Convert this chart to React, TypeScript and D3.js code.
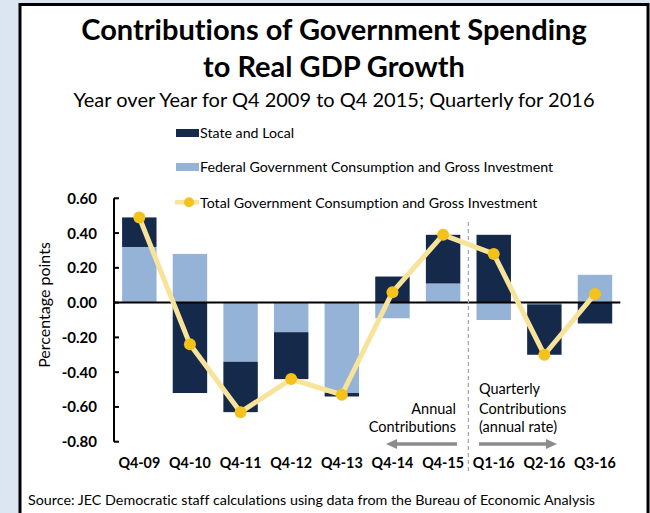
import React from "react";
import * as d3 from "d3";

// Quarters shown on the x axis
const categories = ["Q4-09", "Q4-10", "Q4-11", "Q4-12", "Q4-13", "Q4-14", "Q4-15", "Q1-16", "Q2-16", "Q3-16"];
// Contributions to real GDP growth, percentage points
const federal = [0.32, 0.28, -0.34, -0.17, -0.52, -0.09, 0.11, -0.1, -0.01, 0.16];
const stateLocal = [0.17, -0.52, -0.29, -0.27, -0.02, 0.15, 0.28, 0.39, -0.29, -0.12];
const total = [0.49, -0.24, -0.63, -0.44, -0.53, 0.06, 0.39, 0.28, -0.3, 0.05];
const yTicks = [0.6, 0.4, 0.2, 0, -0.2, -0.4, -0.6, -0.8];

const seriesKeys = ["federal", "stateLocal"];
const seriesColors: Record<string, string> = { federal: "#95b3d7", stateLocal: "#15294b" };

const W = 650;
const H = 513;
const FONT = "Lato, 'Open Sans', sans-serif";

export default function App() {
  const x = d3.scaleBand<string>().domain(categories).range([114, 620.3]).paddingInner(0.32).paddingOuter(0.16);
  const y = d3.scaleLinear().domain([-0.8, 0.6]).range([441.7, 198.3]);

  const rows = categories.map((c, i) => ({ cat: c, federal: federal[i], stateLocal: stateLocal[i] }));
  const stacked = d3.stack<any>().keys(seriesKeys).offset(d3.stackOffsetDiverging)(rows);

  const line = d3
    .line<number>()
    .x((_, i) => (x(categories[i]) as number) + x.bandwidth() / 2)
    .y((d) => y(d));

  const splitX = ((x("Q4-15") as number) + x.bandwidth() + (x("Q1-16") as number)) / 2;

  return (
    <svg
      width={W}
      height={H}
      style={{ position: "absolute", left: 0, top: 0, fontVariantLigatures: "none" }}
      fontFamily={FONT}
    >
      <rect x={0} y={0} width={W} height={H} fill="#dce6f2" />
      <rect x={20} y={4.5} width={628} height={530} fill="#ffffff" stroke="#000" strokeWidth={3} />

      {/* Titles */}
      <text x={334} y={40} textAnchor="middle" fontSize={29} fontWeight={700} fill="#000">
        Contributions of Government Spending
      </text>
      <text x={334} y={77} textAnchor="middle" fontSize={29} fontWeight={700} fill="#000">
        to Real GDP Growth
      </text>
      <text x={334} y={107} textAnchor="middle" fontSize={20} fill="#000">
        Year over Year for Q4 2009 to Q4 2015; Quarterly for 2016
      </text>

      {/* Legend */}
      <g fontSize={14.2} fill="#000">
        <rect x={176} y={129} width={23} height={8} fill={seriesColors.stateLocal} />
        <text x={200} y={138}>State and Local</text>
        <rect x={176} y={163} width={23} height={8} fill={seriesColors.federal} />
        <text x={200} y={172}>Federal Government Consumption and Gross Investment</text>
        <line x1={175} x2={199} y1={202.3} y2={202.3} stroke="#f7e39a" strokeWidth={4.5} />
        <circle cx={189} cy={202.3} r={5} fill="#f5c21b" />
        <text x={200} y={207.5}>Total Government Consumption and Gross Investment</text>
      </g>

      {/* Bars */}
      {stacked.map((s) => (
        <g key={s.key} fill={seriesColors[s.key]}>
          {s.map((d, i) => (
            <rect
              key={i}
              x={x(categories[i]) as number}
              y={y(Math.max(d[0], d[1]))}
              width={x.bandwidth()}
              height={Math.abs(y(d[0]) - y(d[1]))}
            />
          ))}
        </g>
      ))}

      {/* Zero line */}
      <line x1={114} x2={620.3} y1={y(0)} y2={y(0)} stroke="#000" strokeWidth={2} />

      {/* Divider between annual and quarterly */}
      <line x1={splitX} x2={splitX} y1={222} y2={472} stroke="#a6a6a6" strokeWidth={1.3} strokeDasharray="4,3" />

      {/* Y axis */}
      <line x1={114} x2={114} y1={y(0.6)} y2={y(-0.8)} stroke="#000" strokeWidth={2} />
      {yTicks.map((t) => (
        <g key={t}>
          <line x1={114} x2={119} y1={y(t)} y2={y(t)} stroke="#000" strokeWidth={2} />
          <text x={97} y={y(t) + 5.5} textAnchor="end" fontSize={15} fontWeight={700} fill="#000">
            {t.toFixed(2)}
          </text>
        </g>
      ))}
      <text transform="translate(50,305) rotate(-90)" textAnchor="middle" fontSize={16} fill="#000">
        Percentage points
      </text>

      {/* X labels */}
      {categories.map((c) => (
        <text
          key={c}
          x={(x(c) as number) + x.bandwidth() / 2}
          y={468}
          textAnchor="middle"
          fontSize={14.3}
          fontWeight={700}
          fill="#000"
        >
          {c}
        </text>
      ))}

      {/* Total line and markers */}
      <path d={line(total) || ""} fill="none" stroke="#f7e39a" strokeWidth={5} strokeLinejoin="round" />
      {total.map((v, i) => (
        <circle key={i} cx={(x(categories[i]) as number) + x.bandwidth() / 2} cy={y(v)} r={6} fill="#f5c21b" />
      ))}

      {/* Annotations */}
      <g fontSize={14.5} fill="#000">
        <text x={456} y={414} textAnchor="end">Annual</text>
        <text x={456} y={432} textAnchor="end">Contributions</text>
        <text x={479} y={394}>Quarterly</text>
        <text x={479} y={414}>Contributions</text>
        <text x={479} y={432}>(annual rate)</text>
      </g>
      <g fill="#8c8c8c" stroke="#8c8c8c">
        <line x1={395} x2={457} y1={444} y2={444} strokeWidth={3.5} />
        <path d="M386,444 L397,439 L397,449 Z" stroke="none" />
        <line x1={479} x2={548} y1={444} y2={444} strokeWidth={3.5} />
        <path d="M557,444 L546,439 L546,449 Z" stroke="none" />
      </g>

      {/* Source */}
      <text x={28} y={505} fontSize={14.3} fill="#000">
        Source: JEC Democratic staff calculations using data from the Bureau of Economic Analysis
      </text>
    </svg>
  );
}
